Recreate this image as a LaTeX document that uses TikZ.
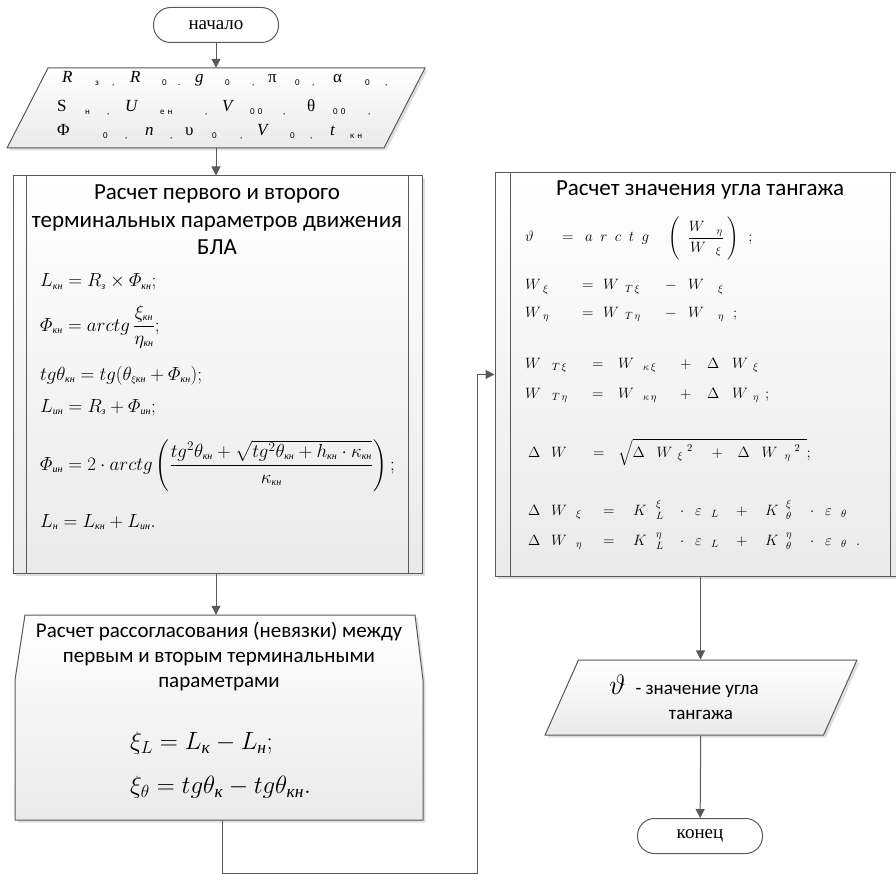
\RequirePackage{fix-cm}
\documentclass[tikz,border=0pt]{standalone}
\usepackage{amsmath}
\usepackage{fontspec}
\setmainfont{Carlito}
\newfontfamily\fml{Liberation Serif}
\usetikzlibrary{arrows.meta,shapes.geometric,shadows,calc}
\definecolor{lnclr}{RGB}{89,89,89}
\definecolor{shd}{RGB}{234,234,234}
\newcommand\cy[1]{\text{\fml\itshape #1}}
\newcommand\cs[1]{\text{\fml\itshape\fontsize{10}{10}\selectfont #1}}
\newcommand\tk[2]{\makebox[#1pt][l]{#2}}
\newcommand\lowtx[1]{\raisebox{-3pt}{\normalfont\fontsize{9}{9}\selectfont #1}}

\begin{document}
\begin{tikzpicture}[
    x=1pt, y=-1pt,
    term/.style={draw=lnclr, line width=1pt, rounded corners=17pt, fill=white,
                 minimum width=125pt, minimum height=35pt, inner sep=0pt,
                 font=\fml\fontsize{19}{19}\selectfont},
    shadedbox/.style={draw=lnclr, line width=1pt, top color=white, bottom color=shd,
                      drop shadow={shadow xshift=2.5pt, shadow yshift=-2.5pt, fill=black!25, opacity=0.5}},
    proc/.style={shadedbox, inner sep=0pt},
    io/.style={shadedbox, trapezium, trapezium stretches=true, inner sep=3pt},
    inner/.style={draw=lnclr, line width=1pt},
    arr/.style={-{Triangle[length=9pt,width=9pt]}, draw=lnclr, line width=1pt},
    ttl/.style={align=center, inner sep=0pt, font=\fontsize{23}{27.5}\selectfont},
    intxt/.style={anchor=base west, inner sep=0pt, font=\fml\fontsize{17}{17}\selectfont},
    fmla/.style={anchor=base west, inner sep=0pt, font=\fontsize{19}{19}\selectfont},
    rfmla/.style={anchor=base west, inner sep=0pt, font=\fontsize{15}{15}\selectfont},
]
    \useasboundingbox (0,0) rectangle (896,874);

    % Left column: x=216, right column: x=700
    \node[term] (start) at (216,25) {начало};

    % Input data (parallelogram)
    \path[shadedbox] (48,68) -- (425,68) -- (384,148) -- (7,148) -- cycle;
    \node[minimum width=377pt, minimum height=80pt, inner sep=0pt] (inp) at (216,108) {};
    \node[intxt] (in1) at (62,83) {\tk{33}{\itshape R}\tk{17}{\lowtx{з}}\tk{18}{\lowtx{,}}\tk{32}{\itshape R}\tk{16}{\lowtx{0}}\tk{17}{\lowtx{.}}\tk{30}{\itshape g}\tk{27}{\lowtx{0}}\tk{16}{\lowtx{,}}\tk{27}{π}\tk{17}{\lowtx{0}}\tk{21}{\lowtx{,}}\tk{32}{α}\tk{20}{\lowtx{0}}\lowtx{,}};
    \node[intxt] (in2) at (57,112) {\tk{28}{S}\tk{22}{\lowtx{н}}\tk{18}{\lowtx{,}}\tk{35}{\itshape U}\tk{45}{\lowtx{е\,\,н}}\tk{17}{\lowtx{,}}\tk{28}{\itshape V}\tk{33}{\lowtx{0\,\,0}}\tk{24}{\lowtx{,}}\tk{26}{θ}\tk{35}{\lowtx{0\,\,0}}\lowtx{,}};
    \node[intxt] (in3) at (57,136) {\tk{46}{Φ}\tk{22}{\lowtx{0}}\tk{20}{\lowtx{,}}\tk{25}{\itshape n}\tk{15}{\lowtx{,}}\tk{27}{υ}\tk{28}{\lowtx{0}}\tk{17}{\lowtx{,}}\tk{33}{\itshape V}\tk{20}{\lowtx{0}}\tk{20}{\lowtx{,}}\tk{20}{\itshape t}\lowtx{к\,\,н}};

    % Terminal parameters
    \node[proc, minimum width=409pt, minimum height=397pt] (lb) at (217.5,374.5) {};
    \node[ttl] (lbt) at (217,220) {Расчет первого и второго\\терминальных параметров движения\\БЛА};
    \node[fmla] (f1) at (40,287) {$L_{\cs{кн}} = R_{\cs{з}} \times \varPhi_{\cs{кн}};$};
    \node[fmla] (f2) at (40,331) {$\varPhi_{\cs{кн}} = arctg\,\dfrac{\xi_{\cs{кн}}}{\eta_{\cs{кн}}};$};
    \node[fmla] (f3) at (40,380) {$tg\theta_{\cs{кн}} = tg(\theta_{\scriptscriptstyle\xi\cs{кн}} + \varPhi_{\cs{кн}});$};
    \node[fmla] (f4) at (40,412) {$L_{\cs{ин}} = R_{\cs{з}} + \varPhi_{\cs{ин}};$};
    \node[fmla] (f5) at (40,470) {$\varPhi_{\cs{ин}} = 2\cdot arctg\left(\dfrac{tg^2\theta_{\cs{кн}} + \sqrt{tg^2\theta_{\cs{кн}} + h_{\cs{кн}}\cdot\kappa_{\cs{кн}}}}{\kappa_{\cs{кн}}}\right);$};
    \node[fmla] (f6) at (40,527) {$L_{\cs{н}} = L_{\cs{кн}} + L_{\cs{ин}}.$};

    % Mismatch (loop limit shape)
    \path[shadedbox] (25,615) -- (415,615) -- (423,680) -- (423,820) -- (15,820) -- (15,680) -- cycle;
    \node[minimum width=408pt, minimum height=205pt, inner sep=0pt] (rs) at (219,717.5) {};
    \node[ttl, font=\fontsize{21}{25}\selectfont] (rst) at (219,657) {Расчет рассогласования (невязки) между\\первым и вторым терминальными\\параметрами};
    \node[anchor=west, align=left, inner sep=0pt, font=\fontsize{25}{44}\selectfont] (rsf) at (130,765)
        {$\xi_L = L_{\cy{к}} - L_{\cy{н}};$\\$\xi_\theta = tg\theta_{\cy{к}} - tg\theta_{\cy{кн}}.$};

    % Pitch angle
    \node[proc, minimum width=411pt, minimum height=403pt] (rb) at (700.5,374.5) {};
    \node[ttl] (rbt) at (700,190) {Расчет значения угла тангажа};
    \node[rfmla] (r1) at (525,242) {\tk{37}{$\vartheta$}\tk{23}{$=$}\tk{83}{$a\,\,\,r\,\,\,c\,\,\,t\,\,\,g$}$\left(\vrule height 27pt depth 19pt width 0pt\hspace{8pt}\dfrac{W\hspace{12pt}{}_{\eta}}{W\hspace{10pt}{}_{\xi}}\hspace{3pt}\right)$\hspace{10pt}$;$};
    \node[rfmla] (r2) at (525,290) {\tk{18}{$W$}\tk{39}{${}_\xi$}\tk{21}{$=$}\tk{22}{$W$}\tk{40}{${}_{T\,\xi}$}\tk{23}{$-$}\tk{30}{$W$}${}_\xi$};
    \node[rfmla] (r3) at (525,317) {\tk{18}{$W$}\tk{39}{${}_\eta$}\tk{21}{$=$}\tk{22}{$W$}\tk{40}{${}_{T\,\eta}$}\tk{23}{$-$}\tk{30}{$W$}\tk{15}{${}_\eta$}$;$};
    \node[rfmla] (r4) at (525,368) {\tk{27}{$W$}\tk{40}{${}_{T\,\xi}$}\tk{26}{$=$}\tk{25}{$W$}\tk{37}{${}_{\kappa\,\xi}$}\tk{27}{$+$}\tk{25}{$\Delta$}\tk{21}{$W$}${}_\xi$};
    \node[rfmla] (r5) at (525,398) {\tk{27}{$W$}\tk{40}{${}_{T\,\eta}$}\tk{26}{$=$}\tk{25}{$W$}\tk{37}{${}_{\kappa\,\eta}$}\tk{27}{$+$}\tk{25}{$\Delta$}\tk{21}{$W$}\tk{12}{${}_\eta$}$;$};
    \node[rfmla] (r6) at (528,457) {\tk{23}{$\Delta$}\tk{42}{$W$}\tk{25}{$=$}$\sqrt{\tk{24}{$\Delta$}\tk{21}{$W$}\tk{34}{${}_\xi\hspace{4pt}{}^2$}\tk{26}{$+$}\tk{24}{$\Delta$}\tk{23}{$W$}\tk{22}{${}_\eta\hspace{4pt}{}^2$}}$$;$};
    \node[rfmla] (r7) at (528,515) {\tk{23}{$\Delta$}\tk{25}{$W$}\tk{27}{${}_\xi$}\tk{30}{$=$}\tk{23}{$K$}\tk{24}{${}^{\xi}_{L}$}\tk{15}{$\cdot$}\tk{16}{$\varepsilon$}\tk{25}{${}_L$}\tk{29}{$+$}\tk{21}{$K$}\tk{24}{${}^{\xi}_{\theta}$}\tk{15}{$\cdot$}\tk{16}{$\varepsilon$}${}_\theta$};
    \node[rfmla] (r8) at (528,545) {\tk{23}{$\Delta$}\tk{25}{$W$}\tk{27}{${}_\eta$}\tk{30}{$=$}\tk{23}{$K$}\tk{24}{${}^{\eta}_{L}$}\tk{15}{$\cdot$}\tk{16}{$\varepsilon$}\tk{25}{${}_L$}\tk{29}{$+$}\tk{21}{$K$}\tk{24}{${}^{\eta}_{\theta}$}\tk{15}{$\cdot$}\tk{16}{$\varepsilon$}\tk{15}{${}_\theta$}$.$};

    % Double side lines of the process boxes
    \foreach \n/\d in {lb/14, rb/16} {
        \draw[inner] ([xshift=\d pt]\n.north west) -- ([xshift=\d pt]\n.south west);
        \draw[inner] ([xshift=-\d pt]\n.north east) -- ([xshift=-\d pt]\n.south east);
    }

    \node[io, minimum width=312pt, minimum height=75pt, align=center,
          trapezium left angle=63, trapezium right angle=117,
          font=\fontsize{19}{25}\selectfont] (out) at (701,697.5)
          {{\fontsize{28}{28}\selectfont$\vartheta$}\hspace{10pt}- значение угла\hspace*{34pt}\\тангажа};

    \node[term] (end) at (700,836) {конец};

    % Connectors
    \draw[arr] (start) -- (inp);
    \draw[arr] (inp) -- (inp |- lb.north);
    \draw[arr] (lb.south -| inp) -- (rs.north -| inp);
    \coordinate (lp) at (477,873);
    \draw[arr] ([xshift=3pt]rs.south) |- (lp) |- (rb.west);
    \draw[arr] (rb.south) -- (rb.south |- out.north);
    \draw[arr] (out) -- (end);
\end{tikzpicture}
\end{document}
